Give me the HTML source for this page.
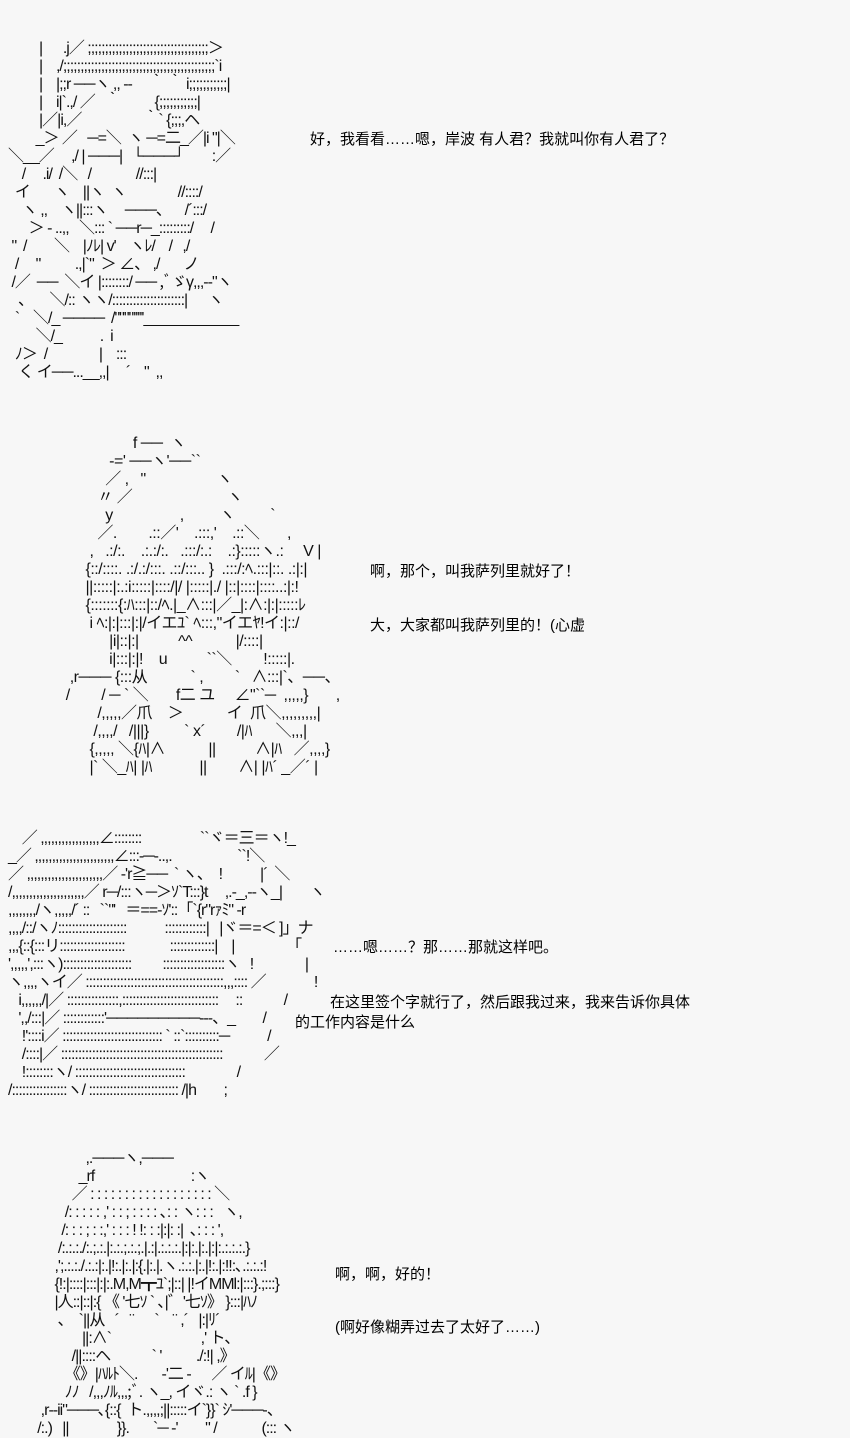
<!DOCTYPE html>
<html><head><meta charset="utf-8">
<style>
html,body{margin:0;padding:0;}
body{width:850px;height:1438px;background:#f7f7f7;position:relative;overflow:hidden;
font-family:"Liberation Sans","Noto Sans CJK JP",sans-serif;color:#000;}
.aa{position:absolute;white-space:pre;font-size:16px;line-height:18px;letter-spacing:-1px;
font-family:"Liberation Sans","Noto Sans CJK JP",sans-serif;color:#111;}
.t{position:absolute;white-space:pre;font-size:15px;line-height:20px;
font-family:"Liberation Sans","Noto Sans CJK SC",sans-serif;}
</style></head><body>
<div class="aa" style="left:8px;top:40px;">         |      .j／ ;;;;;;;;;;;;;;;;;;;;;;;;;;;;;;;;;;;＞
         |    ,/;;;;;;;;;;;;;;;;;;;;;;;;;;;;;;;;;;;;;;;;;;;;`i
         |    |;;r ──ヽ ,, ‐‐     ｀ ｀ i;;;;;;;;;;;|
         |    i|`.,/ ／   ｀          {;;;;;;;;;;;|
         |／|i,／                  ｀` {;;;,ヘ
        _＞ ／   ─=＼  ヽ ─=二_／|i "|＼
＼__／     ,/ | ───|   └───┘        :／
    /     .i/  /＼   /             //:::|
  イ       ヽ    ||ヽ  ヽ               //::::/
    ヽ ,,    ヽ||:::ヽ     ───、    /´:::/
      ＞ ‐ ..,,   ＼::: ` ──r─_:::::::::/     /
 "  /        ＼    |ﾉﾚ| v'    ヽﾚ/    /   ,/
  /     "          .,|`"  ＞ ∠、 ,/       ノ
 /／  ──  ＼イ |::::::::/ ── ,ﾞゞγ,,,‐‐"ヽ
   ､       ＼/:: ヽヽ/:::::::::::::::::::::|      ヽ
  `    ＼/_ ────  /""""'''''____________
        ＼/_           .  i
  ﾉ＞  /               |    :::
   く イ──...__,,|     ´    "  ,,</div>
<div class="t" style="left:310px;top:130px;">好，我看看……嗯，岸波 有人君？我就叫你有人君了？</div>

<div class="aa" style="left:50px;top:435px;letter-spacing:-0.5px;">                     f ──  ヽ
               ‐=' ──ヽ'──``     
              ／ ,   "                  ヽ
            〃 ／                        ヽ
              y                 ,         ヽ         `
            ／.        .::／'    .:::,'    .::＼       ,
          ,   .:/:.    .:.:/:.   .:::/:.:    .:}:::::ヽ.:     V |
         {::/::::. .:/.:/:::. .::/:::.. }  .:::/:ﾍ.:::|::. .:|:|
         ||:::::|:.:i:::::|::::/|/ |:::::|./ |::|::::|::::..:|:!
         {:::::::{:ﾊ:::|::/ﾍ.|_∧:::|／_|:∧:|:|:::::ﾚ
          i ﾍ:|:|:::|:|/イエﾕ` ﾍ:::,"イエﾔ!イ:|::/
               |i|::|:|          ^^           |/::::|
               i|:::|:|!    u          ``＼        !:::::|.
     ,r─── {:::从           ` ,        `   ∧:::|`、──、
    /        / ─ ` ＼       f二 ユ     ∠"``─  ,,,,,}       ,
            /,,,,,／爪    ＞           イ  爪＼,,,,,,,,,|
           /,,,,/   /|||}         ` x´        /|ﾊ      ＼,,,|
          {,,,,, ＼{ﾊ|∧           ||          ∧|ﾊ   ／,,,,}
          |` ＼_ﾊ| |ﾊ            ||        ∧| |ﾊ´ _／´ |</div>
<div class="t" style="left:370px;top:562px;">啊，那个，叫我萨列里就好了！</div>
<div class="t" style="left:370px;top:616px;">大，大家都叫我萨列里的！(心虚</div>

<div class="aa" style="left:8px;top:830px;">    ／ ,,,,,,,,,,,,,,,,,∠::::::::                 ``ヾ＝三＝ヽ!_
_／ ,,,,,,,,,,,,,,,,,,,,,,,∠:::‐─-..,.                   ``!＼
／ ,,,,,,,,,,,,,,,,,,,,,,／ ‐'r≧──  ` ヽ、  !           |´  ＼
/,,,,,,,,,,,,,,,,,,,,,／ r─/:::ヽ─＞ｿ`T:::}t     ,.‐_,‐‐ヽ_|        ヽ
,,,,,,,,/ヽ,,,,,/´ ::   ``"'   ＝==‐ｿ'::「`{r"rｧﾐ" ‐r
,,,,/::/ヽﾉ::::::::::::::::::::           ::::::::::::|   |ヾ＝=＜ ]」ナ
,,,{::{:::リ:::::::::::::::::::             :::::::::::::|    |               「
',,,,,',:::ヽ)::::::::::::::::::::         ::::::::::::::::::ヽ   !               |
ヽ,,,,ヽイ／ ::::::::::::::::::::::::::::::::::::::::,,,:::: ／              !
   i,,,,,,/|／ :::::::::::::::,::::::::::::::::::::::::::::     ::            /
   ',,/:::|／ ::::::::::::'─────────‐‐‐、_        /
    !'::::i／ ::::::::::::::::::::::::::::: ` ::`::::::::::─           /
    /::::|／ :::::::::::::::::::::::::::::::::::::::::::::::            ／
    !::::::::ヽ/ ::::::::::::::::::::::::::::::::               /
/::::::::::::::::ヽ/ :::::::::::::::::::::::::: /|h        ;</div>
<div class="t" style="left:333px;top:938px;">……嗯……？那……那就这样吧。</div>
<div class="t" style="left:330px;top:993px;">在这里签个字就行了，然后跟我过来，我来告诉你具体</div>
<div class="t" style="left:295px;top:1013px;">的工作内容是什么</div>

<div class="aa" style="left:20px;top:1150px;">                   ,.───ヽ,───
                 _rf                            :ヽ
               ／ : : : : : : : : : : : : : : : : : : ＼
             /: : : : : ,' : : ; : : : : ､: : ヽ: : :   ヽ,
            /: : : ; : :,' : : : ! !: : :|:|: :|  ､: : : ',
           /:.:.:./:.;.:.|:.:.;.:.;.|.:|.:.:.:.|:|:.|:.|:|:.:.:.:.}
          ,';.:.:./.:.:|:.|!:.|:.|:{.|:.|.ヽ.:.:.|:.|!:.|:!!:､.:.:.:!
          {!:|::::|:::|:|:.M,M┳ﾕ`;|::| |!イMMl:|:::}.;:::}
          |人::|::|:{ 《 '七ｿ ` ､|゛'七ｿ》 }:::|ﾊﾉ
           ､    `||从   ´   ¨      `    ¨ ,´   |:|ﾘ´
                  ||:∧`                          ,' ト、
               /||::::ヘ            ` '          ./:!| ,》
             《》|ﾊﾙﾄ＼.       ‐'二 ‐      ／ イﾙ|《》
             ﾉﾉ   /,,,ﾉﾙ,,,;ﾞ. ヽ_, イヾ.: ヽ ` .f }
      ,r‐‐ii"───､{::{  ト.,,,,;||:::::イ`}}` ｼ'───‐、
     /:.)   ||              }}.       `─ ‐'        " /             (::: ヽ</div>
<div class="t" style="left:335px;top:1265px;">啊，啊，好的！</div>
<div class="t" style="left:335px;top:1318px;">(啊好像糊弄过去了太好了……)</div>
</body></html>
